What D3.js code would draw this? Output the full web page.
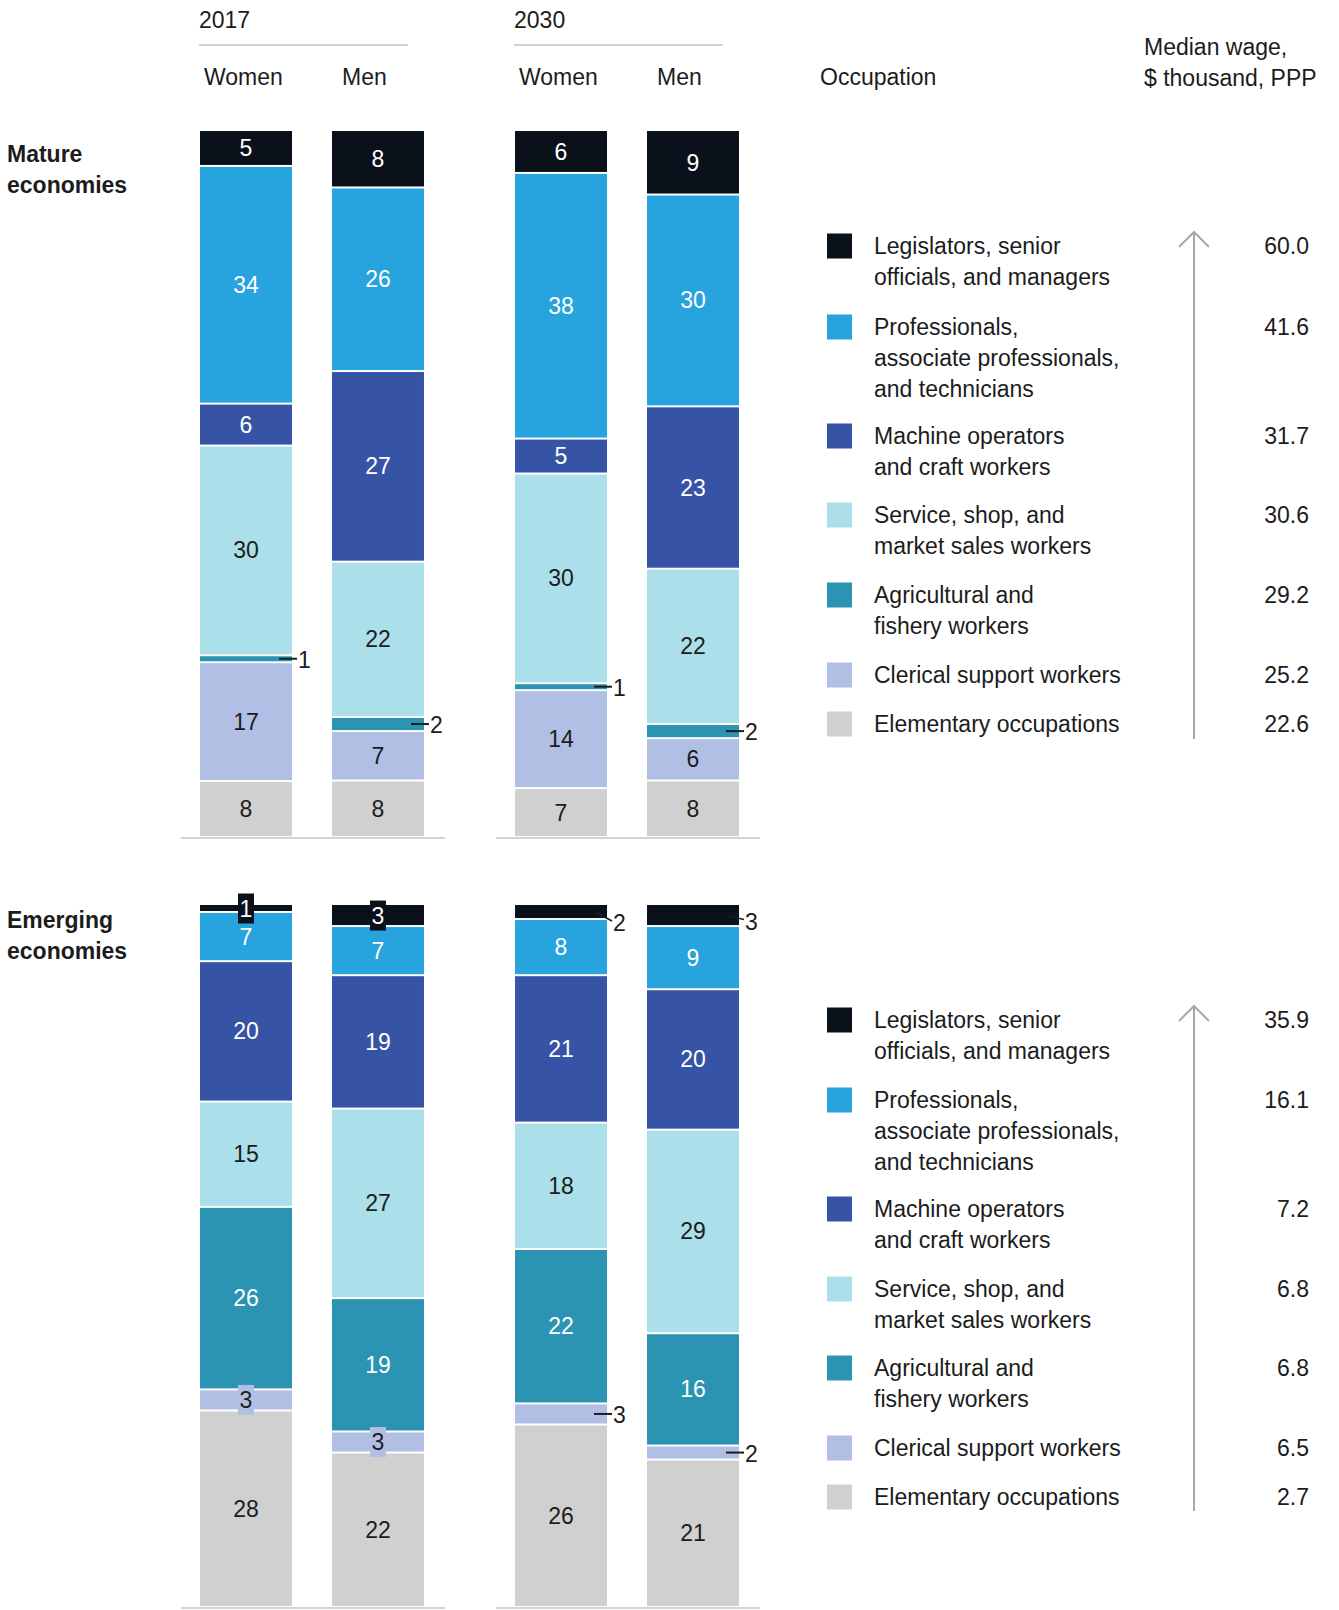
<!DOCTYPE html>
<html>
<head>
<meta charset="utf-8">
<script src="https://cdn.jsdelivr.net/npm/d3@7"></script>
<style>
  body { margin: 0; background: #fff; }
  svg { font-family: "Liberation Sans", Arial, sans-serif; }
</style>
</head>
<body>
<svg id="chart" width="1339" height="1610"></svg>
<script>
// occupations, top to bottom of each bar
var occupations = ["legis", "prof", "machine", "service", "agri", "clerical", "elem"];
var occupationLabels = [
  ["Legislators, senior", "officials, and managers"],
  ["Professionals,", "associate professionals,", "and technicians"],
  ["Machine operators", "and craft workers"],
  ["Service, shop, and", "market sales workers"],
  ["Agricultural and", "fishery workers"],
  ["Clerical support workers"],
  ["Elementary occupations"]
];
var colors = ["#0b111b", "#27a3dd", "#3753a5", "#abdfe9", "#2a94b2", "#b0bfe3", "#d0d0d0"];
var darkText = [false, false, false, true, false, true, true];

var years = ["2017", "2030"];
var genders = ["Women", "Men"];

// share of employment, %
var matureWomen2017 = [5, 34, 6, 30, 1, 17, 8];
var matureMen2017 = [8, 26, 27, 22, 2, 7, 8];
var matureWomen2030 = [6, 38, 5, 30, 1, 14, 7];
var matureMen2030 = [9, 30, 23, 22, 2, 6, 8];
var emergingWomen2017 = [1, 7, 20, 15, 26, 3, 28];
var emergingMen2017 = [3, 7, 19, 27, 19, 3, 22];
var emergingWomen2030 = [2, 8, 21, 18, 22, 3, 26];
var emergingMen2030 = [3, 9, 20, 29, 16, 2, 21];

// median wage, $ thousand, PPP
var matureWages = ["60.0", "41.6", "31.7", "30.6", "29.2", "25.2", "22.6"];
var emergingWages = ["35.9", "16.1", "7.2", "6.8", "6.8", "6.5", "2.7"];

var svg = d3.select("#chart");
var textColor = "#1c1c1c";
var fs = 23;

var xYear = d3.scaleBand().domain(years).range([200, 739]).paddingInner(0.289);
var xGender = d3.scaleBand().domain(genders).range([0, xYear.bandwidth()]).paddingInner(0.303);

// header
years.forEach(function(y) {
  var gx = xYear(y);
  svg.append("text").attr("x", gx - 1).attr("y", 28).attr("font-size", fs).attr("fill", textColor).text(y);
  svg.append("line").attr("x1", gx - 1).attr("x2", gx + 208).attr("y1", 45).attr("y2", 45)
    .attr("stroke", "#d3d3d3").attr("stroke-width", 2);
  genders.forEach(function(g) {
    svg.append("text").attr("x", gx + xGender(g) + (g == "Women" ? 4 : 10)).attr("y", 85)
      .attr("font-size", fs).attr("fill", textColor).text(g);
  });
});
svg.append("text").attr("x", 820).attr("y", 85).attr("font-size", fs).attr("fill", textColor).text("Occupation");
svg.append("text").attr("x", 1144).attr("y", 55).attr("font-size", fs).attr("fill", textColor).text("Median wage,");
svg.append("text").attr("x", 1144).attr("y", 86).attr("font-size", fs).attr("fill", textColor).text("$ thousand, PPP");

function panel(title, titleY, top, bottom, series, boxYear, wages, legendY, arrowTop, arrowBottom) {
  svg.append("text").attr("x", 7).attr("y", titleY).attr("font-size", fs).attr("font-weight", "bold")
    .attr("fill", textColor).text(title[0]);
  svg.append("text").attr("x", 7).attr("y", titleY + 31).attr("font-size", fs).attr("font-weight", "bold")
    .attr("fill", textColor).text(title[1]);

  var y = d3.scaleLinear().domain([0, 1]).range([bottom, top]);

  years.forEach(function(yr) {
    var gx = xYear(yr);
    svg.append("line").attr("x1", gx - 19).attr("x2", gx + xYear.bandwidth() + 21)
      .attr("y1", bottom + 1).attr("y2", bottom + 1).attr("stroke", "#d3d3d3").attr("stroke-width", 2);
  });

  series.forEach(function(s) {
    var total = d3.sum(s.values);
    var row = {};
    occupations.forEach(function(o, i) { row[o] = s.values[i] / total; });
    // stack from the bottom (elementary) up to legislators
    var stacked = d3.stack().keys(occupations.slice().reverse())([row]);
    var x0 = xYear(s.year) + xGender(s.gender);
    var w = xGender.bandwidth();
    var g = svg.append("g");

    g.selectAll("rect").data(stacked).enter().append("rect")
      .attr("x", x0).attr("width", w)
      .attr("y", function(d) { return y(d[0][1]) + (d[0][1] >= 0.999 ? 0 : 1); })
      .attr("height", function(d) { return Math.max(0.5, y(d[0][0]) - y(d[0][1]) - (d[0][1] >= 0.999 ? 1 : 2)); })
      .attr("fill", function(d) { return colors[occupations.indexOf(d.key)]; });

    stacked.forEach(function(d) {
      var i = occupations.indexOf(d.key);
      var v = s.values[i];
      var yTop = y(d[0][1]), yBot = y(d[0][0]);
      var h = yBot - yTop, cy = (yTop + yBot) / 2;
      var col = darkText[i] ? textColor : "#fff";
      if (h >= 24) {
        g.append("text").attr("x", x0 + w / 2).attr("y", cy).attr("text-anchor", "middle")
          .attr("dominant-baseline", "central").attr("font-size", fs).attr("fill", col).text(v);
      } else if (s.year == boxYear) {
        g.append("rect").attr("x", x0 + w / 2 - 8).attr("y", cy - 15).attr("width", 16).attr("height", 30)
          .attr("fill", colors[i]);
        g.append("text").attr("x", x0 + w / 2).attr("y", cy).attr("text-anchor", "middle")
          .attr("dominant-baseline", "central").attr("font-size", fs).attr("fill", col).text(v);
      } else if (i == 0) {
        var dy = s.gender == "Women" ? 9 : 4;
        g.append("line").attr("x1", x0 + w - 12).attr("y1", cy).attr("x2", x0 + w + 5).attr("y2", cy + dy)
          .attr("stroke", textColor).attr("stroke-width", 1.5);
        g.append("text").attr("x", x0 + w + 6).attr("y", cy + dy + 2).attr("dominant-baseline", "central")
          .attr("font-size", fs).attr("fill", textColor).text(v);
      } else {
        g.append("line").attr("x1", x0 + w - 13).attr("y1", cy).attr("x2", x0 + w + 5).attr("y2", cy)
          .attr("stroke", textColor).attr("stroke-width", 2);
        g.append("text").attr("x", x0 + w + 6).attr("y", cy + 1).attr("dominant-baseline", "central")
          .attr("font-size", fs).attr("fill", textColor).text(v);
      }
    });
  });

  // legend
  occupationLabels.forEach(function(lines, i) {
    var ly = legendY[i];
    svg.append("rect").attr("x", 827).attr("y", ly - 12.5).attr("width", 25).attr("height", 25).attr("fill", colors[i]);
    lines.forEach(function(l, j) {
      svg.append("text").attr("x", 874).attr("y", ly + j * 31).attr("dominant-baseline", "central")
        .attr("font-size", fs).attr("fill", textColor).text(l);
    });
    svg.append("text").attr("x", 1309).attr("y", ly).attr("text-anchor", "end").attr("dominant-baseline", "central")
      .attr("font-size", fs).attr("fill", textColor).text(wages[i]);
  });

  svg.append("line").attr("x1", 1194).attr("x2", 1194).attr("y1", arrowTop).attr("y2", arrowBottom)
    .attr("stroke", "#a8a8a8").attr("stroke-width", 2);
  svg.append("path").attr("d", "M" + (1194 - 15) + "," + (arrowTop + 15) + "L1194," + arrowTop + "L" + (1194 + 15) + "," + (arrowTop + 15))
    .attr("fill", "none").attr("stroke", "#a8a8a8").attr("stroke-width", 2);
}

panel(["Mature", "economies"], 162, 131, 837, [
  { year: "2017", gender: "Women", values: matureWomen2017 },
  { year: "2017", gender: "Men", values: matureMen2017 },
  { year: "2030", gender: "Women", values: matureWomen2030 },
  { year: "2030", gender: "Men", values: matureMen2030 }
], null, matureWages, [246, 327, 436, 515, 595, 675, 724], 232, 739);

panel(["Emerging", "economies"], 928, 905, 1607, [
  { year: "2017", gender: "Women", values: emergingWomen2017 },
  { year: "2017", gender: "Men", values: emergingMen2017 },
  { year: "2030", gender: "Women", values: emergingWomen2030 },
  { year: "2030", gender: "Men", values: emergingMen2030 }
], "2017", emergingWages, [1020, 1100, 1209, 1289, 1368, 1448, 1497], 1006, 1511);
</script>
</body>
</html>
